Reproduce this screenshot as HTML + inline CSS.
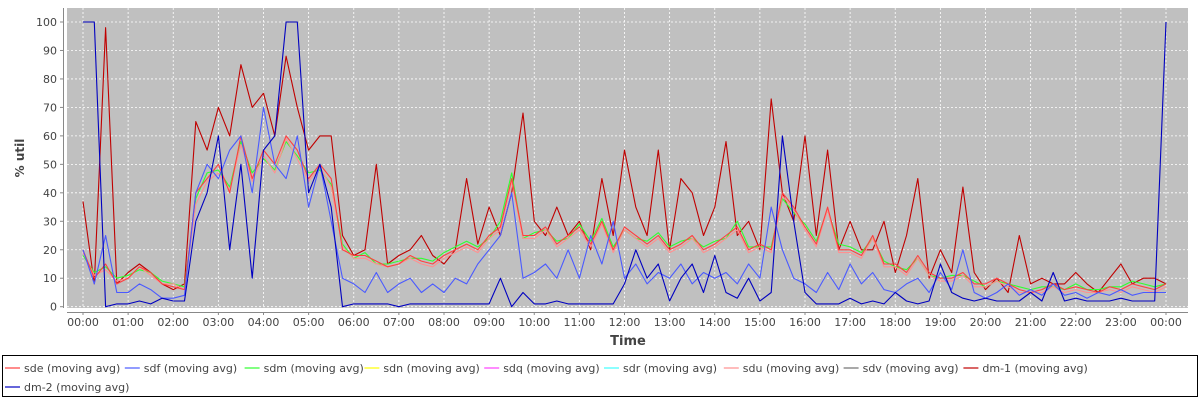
<!DOCTYPE html>
<html><head><meta charset="utf-8"><style>
body{margin:0;background:#fff;width:1200px;height:400px;overflow:hidden;font-family:"DejaVu Sans","Liberation Sans",sans-serif}
svg text{font-family:"DejaVu Sans","Liberation Sans",sans-serif}
</style></head><body>
<svg id="chart" width="1200" height="400" xmlns="http://www.w3.org/2000/svg">
<rect x="67" y="8" width="1121" height="300" fill="#c0c0c0"/>
<g id="grid"></g><g id="series"></g><g id="axes"></g>
<text x="24" y="158" transform="rotate(-90 24 158)" text-anchor="middle" font-size="12" font-weight="bold" fill="#444">% util</text>
<text x="628" y="345" text-anchor="middle" font-size="13" font-weight="bold" fill="#444">Time</text>
<rect x="2.5" y="355.5" width="1195" height="41" fill="#fff" stroke="#000"/>
<g id="legend"></g>
</svg>
<script>
const yTicks=[0,10,20,30,40,50,60,70,80,90,100];
const xTickLabels=["00:00","01:00","02:00","03:00","04:00","05:00","06:00","07:00","08:00","09:00","10:00","11:00","12:00","13:00","14:00","15:00","16:00","17:00","18:00","19:00","20:00","21:00","22:00","23:00","00:00"];
const seriesNames=["sde","sdf","sdm","sdn","sdq","sdr","sdu","sdv","dm-1","dm-2"];
const seriesColors=["#ff4040","#4a5aff","#30ff30","#ffff00","#ff40ff","#40ffff","#ff9090","#707070","#c00000","#0000c0"];
const sdeVals=[20,10,15,8,10,14,12,8,7,6,40,45,50,40,60,45,55,50,60,55,45,50,45,20,18,18,16,14,15,18,16,15,18,20,22,20,25,28,45,25,25,28,22,25,28,22,30,20,28,25,22,25,20,22,25,20,22,25,28,20,22,20,40,35,28,22,35,20,20,18,25,15,15,12,18,12,10,10,12,8,8,10,8,6,5,6,8,6,7,6,5,7,6,8,7,6,8];
const sdmVals=[18,12,14,10,11,13,12,9,8,7,38,47,48,42,58,47,52,48,58,53,47,48,43,22,17,19,15,15,16,17,17,16,19,21,23,21,24,30,47,24,26,27,23,24,29,23,31,21,27,24,23,26,21,23,24,21,23,24,30,21,21,21,38,33,29,23,34,22,21,19,24,16,14,13,17,11,10,11,11,9,7,9,8,7,6,7,7,6,8,6,6,7,7,9,8,7,8];
const sduVals=[19,11,13,9,10,14,11,8,8,6,36,44,47,41,57,44,53,47,59,52,44,49,42,21,17,17,15,14,15,17,15,14,17,19,21,19,24,27,44,24,24,27,21,24,27,21,29,19,27,24,21,24,19,21,24,19,21,24,27,19,21,19,39,34,27,21,34,19,19,17,24,14,14,11,17,11,9,9,11,7,7,9,7,5,5,5,7,5,6,5,5,6,5,7,6,5,7];
const sdfVals=[20,8,25,5,5,8,6,3,3,4,40,50,45,55,60,40,70,50,45,60,35,50,30,10,8,5,12,5,8,10,5,8,5,10,8,15,20,25,40,10,12,15,10,20,10,25,15,30,10,15,8,12,10,15,8,12,10,12,8,15,10,35,20,10,8,5,12,6,15,8,12,6,5,8,10,5,12,6,20,5,3,5,8,4,6,4,8,4,5,3,5,4,6,4,5,5,5];
const dm1Vals=[37,8,98,8,12,15,12,8,6,8,65,55,70,60,85,70,75,60,88,70,55,60,60,25,18,20,50,15,18,20,25,18,15,20,45,22,35,25,40,68,30,25,35,25,30,20,45,25,55,35,25,55,20,45,40,25,35,58,25,30,20,73,40,30,60,25,55,20,30,20,20,30,12,25,45,10,20,12,42,12,6,10,5,25,8,10,8,8,12,8,5,10,15,8,10,10,8];
const dm2Vals=[100,100,0,1,1,2,1,3,2,2,30,40,60,20,50,10,55,60,100,100,40,50,35,0,1,1,1,1,0,1,1,1,1,1,1,1,1,10,0,5,1,1,2,1,1,1,1,1,8,20,10,15,2,10,15,5,18,5,3,10,2,5,60,30,5,1,1,1,3,1,2,1,5,2,1,2,15,5,3,2,3,2,2,2,5,2,12,2,3,2,2,2,3,2,2,2,100];
const seriesData={"sde":sdeVals,"sdf":sdfVals,"sdm":sdmVals,"sdu":sduVals,"dm-1":dm1Vals,"dm-2":dm2Vals};
const drawOrder=["dm-1","sdm","sdu","sde","sdf","dm-2"];

const X0=83,X1=1166,Y0=306.7,Y100=22;
const xScale=h=>X0+(X1-X0)*h/24;
const yScale=v=>Y0+(Y100-Y0)*v/100;
const NS="http://www.w3.org/2000/svg";
function mk(tag,attrs,parent){const e=document.createElementNS(NS,tag);for(const k in attrs)e.setAttribute(k,attrs[k]);parent.appendChild(e);return e;}
const grid=document.getElementById('grid'),axes=document.getElementById('axes'),ser=document.getElementById('series'),leg=document.getElementById('legend');
yTicks.forEach(v=>{const y=yScale(v);
 const g=mk('line',{x1:67,x2:1188,y1:y,y2:y,stroke:'#fff','stroke-width':0.8,'stroke-dasharray':'2,2'},grid);
 
 
 const t=mk('line',{x1:60,x2:63,y1:y,y2:y,stroke:'#888'},axes);
 
 
 const l=mk('text',{x:57,y:y+4,'text-anchor':'end','font-size':11,fill:'#444'},axes);l.textContent=v;
 
 
});
xTickLabels.forEach((s,i)=>{const x=xScale(i);
 const g=mk('line',{x1:x,x2:x,y1:8,y2:308,stroke:'#fff','stroke-width':0.8,'stroke-dasharray':'2,2'},grid);
 
 
 const t=mk('line',{x1:x,x2:x,y1:312,y2:315,stroke:'#888'},axes);
 
 
 const l=mk('text',{x:x,y:326,'text-anchor':'middle','font-size':11,fill:'#444'},axes);l.textContent=s;
 
 
});
const ya=mk('line',{x1:63.5,x2:63.5,y1:8,y2:308,stroke:'#888'},axes);


const xa=mk('line',{x1:67,x2:1188,y1:312.5,y2:312.5,stroke:'#888'},axes);


drawOrder.forEach(name=>{const vals=seriesData[name];const n=vals.length;
 const pts=vals.map((v,i)=>xScale(i*24/(n-1)).toFixed(1)+','+yScale(v).toFixed(1)).join(' ');
 const p=mk('polyline',{points:pts,fill:'none',stroke:seriesColors[seriesNames.indexOf(name)],'stroke-width':1.1,'stroke-linejoin':'round'},ser);
 
 
});
seriesNames.forEach((name,i)=>{const row=i<9?0:1;const x=row?5:5+i*119.8;const y=row?368+19:368;
 const g=mk('g',{},leg);
 
 
 mk('line',{x1:x,x2:x+15,y1:y,y2:y,stroke:seriesColors[i],'stroke-width':1.2},g);
 const t=mk('text',{x:x+19,y:y+4,'font-size':11,fill:'#444'},g);t.textContent=name+' (moving avg)';
});
</script>
</body></html>
